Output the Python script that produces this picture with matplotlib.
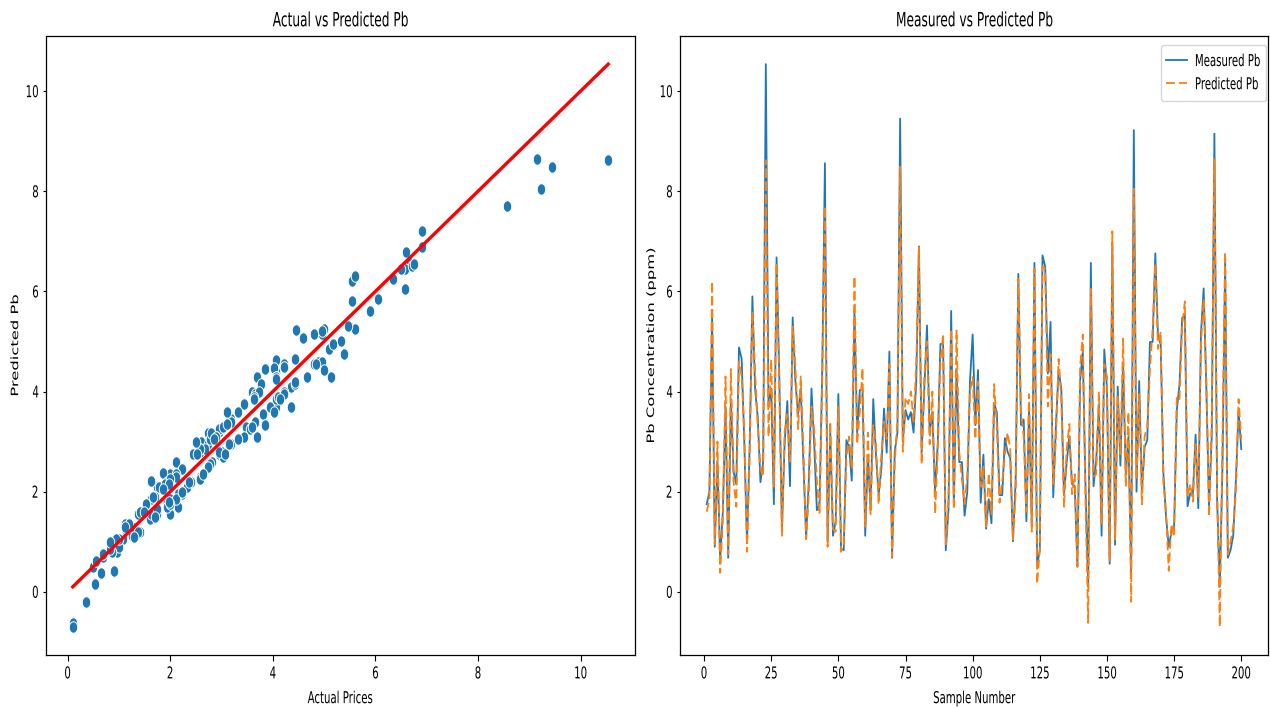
import matplotlib
matplotlib.use("Agg")
import numpy as np
import matplotlib.pyplot as plt
from matplotlib.path import Path
from matplotlib.patheffects import AbstractPathEffect
from matplotlib.transforms import Affine2D

# Measured and predicted Pb concentration (ppm) for samples 1..200
measured_pb = [
    1.75, 2.00, 5.54, 0.90, 2.60, 0.65, 1.60, 3.70, 0.68, 3.85,
    2.40, 2.15, 4.88, 4.66, 2.96, 0.97, 2.96, 5.90, 4.06, 3.48,
    2.19, 2.59, 10.54, 3.70, 4.06, 1.75, 6.68, 4.36, 1.25, 2.96,
    3.81, 2.11, 5.48, 4.21, 3.55, 4.06, 2.59, 1.08, 2.22, 4.06,
    2.96, 1.63, 1.75, 4.43, 8.56, 1.00, 3.18, 1.12, 1.41, 3.95,
    0.86, 0.83, 3.03, 2.89, 2.22, 5.60, 3.18, 4.03, 4.03, 1.12,
    2.74, 1.63, 3.85, 2.74, 1.93, 2.45, 3.66, 2.78, 4.80, 0.68,
    2.81, 3.18, 9.45, 3.00, 3.63, 3.44, 3.59, 3.18, 4.21, 6.90,
    2.78, 4.06, 5.32, 3.18, 3.60, 2.00, 2.96, 4.95, 4.95, 0.83,
    1.63, 5.61, 1.75, 4.45, 2.59, 2.59, 1.52, 2.00, 4.21, 5.14,
    3.33, 4.43, 1.78, 2.74, 1.26, 1.85, 1.37, 3.77, 3.59, 1.93,
    1.93, 3.07, 2.80, 2.67, 1.01, 2.22, 6.35, 3.33, 3.44, 1.41,
    3.66, 1.37, 6.57, 0.53, 0.83, 6.72, 6.50, 4.36, 5.39, 1.89,
    3.33, 4.43, 4.06, 1.93, 2.59, 3.11, 2.15, 2.11, 0.50, 4.21,
    4.80, 2.11, 0.10, 6.57, 2.11, 2.63, 3.74, 1.12, 4.84, 4.06,
    0.56, 6.90, 0.94, 4.10, 2.52, 4.58, 2.33, 3.10, 0.35, 9.22,
    2.00, 4.21, 2.00, 2.89, 3.03, 4.99, 4.99, 6.76, 5.10, 4.95,
    2.37, 1.49, 0.90, 1.19, 1.30, 3.63, 4.14, 5.47, 5.54, 1.71,
    1.97, 1.97, 3.14, 1.67, 5.17, 6.06, 4.06, 1.71, 3.11, 9.15,
    1.85, 0.10, 2.50, 6.60, 0.68, 0.83, 1.12, 2.22, 3.63, 2.85,
]

predicted_pb = [
    1.60, 1.85, 6.20, 0.95, 3.00, 0.38, 1.45, 4.30, 0.75, 4.45,
    2.20, 1.70, 4.60, 4.30, 3.20, 0.80, 2.75, 5.60, 4.40, 3.30,
    2.45, 2.30, 8.62, 3.10, 4.64, 2.10, 6.57, 4.10, 1.12, 3.20,
    3.55, 2.60, 5.30, 4.50, 3.25, 4.30, 2.85, 1.05, 1.95, 3.70,
    3.25, 2.22, 1.55, 4.15, 7.70, 0.90, 3.40, 1.25, 1.20, 3.70,
    0.80, 0.95, 2.70, 3.10, 2.45, 6.30, 2.95, 3.60, 4.47, 1.30,
    3.18, 1.55, 3.33, 2.95, 1.75, 2.75, 3.40, 3.05, 4.55, 0.70,
    2.60, 3.45, 8.49, 2.80, 3.88, 3.75, 4.00, 3.40, 4.55, 6.88,
    2.55, 4.30, 5.00, 2.95, 4.00, 1.56, 2.80, 4.60, 5.15, 0.95,
    1.85, 5.25, 1.65, 5.22, 2.80, 2.25, 1.75, 2.35, 4.00, 4.29,
    3.05, 4.20, 2.10, 2.50, 1.30, 2.37, 1.55, 4.15, 3.30, 1.78,
    2.20, 2.75, 3.18, 2.85, 1.05, 1.95, 6.25, 3.60, 3.10, 1.60,
    3.95, 1.20, 6.45, 0.16, 0.85, 6.50, 6.45, 3.70, 4.75, 2.15,
    3.05, 4.65, 3.85, 1.70, 2.85, 3.35, 1.95, 2.35, 0.50, 4.50,
    5.14, 1.85, -0.62, 6.05, 2.30, 2.35, 4.00, 1.35, 4.55, 4.30,
    0.62, 7.20, 1.05, 3.90, 2.75, 5.06, 2.10, 3.59, -0.20, 8.05,
    2.25, 3.95, 1.75, 3.10, 3.30, 4.43, 5.25, 6.55, 4.85, 5.20,
    2.20, 1.60, 0.42, 1.35, 1.10, 3.90, 3.85, 5.30, 5.80, 1.90,
    2.15, 1.80, 2.95, 1.90, 4.95, 5.85, 4.25, 1.50, 3.35, 8.64,
    2.05, -0.70, 3.00, 6.79, 0.75, 1.00, 1.30, 2.00, 3.85, 3.05,
]

sample_number = list(range(1, len(measured_pb) + 1))

scatter_xticks = [0, 2, 4, 6, 8, 10]
value_ticks = [0, 2, 4, 6, 8, 10]
sample_ticks = [0, 25, 50, 75, 100, 125, 150, 175, 200]

SQUEEZE = 0.62     # horizontal narrowing of all lettering
FS = 11.8          # base font size
plt.rcParams["font.family"] = ["DejaVu Sans"]


class SqueezeX(AbstractPathEffect):
    """Narrow a drawn path horizontally about an anchor x (display units)."""

    def __init__(self, factor, anchor="center", x0=None):
        super().__init__()
        self.factor = factor
        self.anchor = anchor
        self.x0 = x0

    def draw_path(self, renderer, gc, tpath, affine, rgbFace=None):
        if self.x0 is not None:
            cx = self.x0
        else:
            ext = tpath.get_extents(affine)
            cx = {"center": 0.5 * (ext.x0 + ext.x1),
                  "right": ext.x1, "left": ext.x0}[self.anchor]
        squeeze = Affine2D().translate(-cx, 0).scale(self.factor, 1).translate(cx, 0)
        renderer.draw_path(gc, tpath, affine + squeeze, rgbFace)


def narrow(text, anchor="center"):
    text.set_path_effects([SqueezeX(SQUEEZE, anchor)])


# Slightly upright elliptical dot used for the scatter
theta = np.linspace(0, 2 * np.pi, 60)
oval = Path(np.column_stack([0.37 * np.cos(theta), 0.5 * np.sin(theta)]), closed=True)

fig = plt.figure(figsize=(12.70, 7.09), dpi=100)
ax1 = fig.add_axes([46 / 1270, 1 - 655 / 709, (635 - 46) / 1270, (655 - 36) / 709])
ax2 = fig.add_axes([680 / 1270, 1 - 655 / 709, (1268 - 680) / 1270, (655 - 36) / 709])

# Left: actual vs predicted scatter with the identity line
ax1.scatter(measured_pb, predicted_pb, s=68, marker=oval, color="#1f77b4",
            edgecolor="white", linewidth=0.7, zorder=2)
lo, hi = min(measured_pb), max(measured_pb)
ax1.plot([lo, hi], [lo, hi], color="red", linewidth=2.4, zorder=3)
ax1.set_xticks(scatter_xticks)
ax1.set_yticks(value_ticks)
ax1.set_title("Actual vs Predicted Pb", fontsize=FS * 1.2, pad=7)
ax1.set_xlabel("Actual Prices", fontsize=FS, labelpad=7)
ax1.set_ylabel("Predicted Pb", fontsize=FS, va="center")
ax1.yaxis.set_label_coords(-0.051, 0.5)

# Right: measured and predicted series by sample
ax2.plot(sample_number, measured_pb, color="#1f77b4", linewidth=1.3,
         label="Measured Pb")
ax2.plot(sample_number, predicted_pb, color="#ff7f0e", linewidth=1.3,
         linestyle="--", dashes=(5.0, 2.15), label="Predicted Pb")
ax2.set_xticks(sample_ticks)
ax2.set_yticks(value_ticks)
ax2.set_title("Measured vs Predicted Pb", fontsize=FS * 1.2, pad=7)
ax2.set_xlabel("Sample Number", fontsize=FS, labelpad=7)
ax2.set_ylabel("Pb Concentration (ppm)", fontsize=FS, va="center")
ax2.yaxis.set_label_coords(-0.049, 0.5)
leg = ax2.legend(loc="upper right", fontsize=FS, borderaxespad=0,
                 borderpad=0.55, bbox_to_anchor=(1 - 2 / 588, 1 - 9 / 619))

for ax in (ax1, ax2):
    ax.tick_params(axis="x", labelsize=FS, length=4.1, pad=4.1, width=0.8)
    ax.tick_params(axis="y", labelsize=FS, length=2.5, pad=2.5, width=0.8)
    for spine in ax.spines.values():
        spine.set_linewidth(0.9)

fig.canvas.draw()

for ax in (ax1, ax2):
    narrow(ax.title)
    narrow(ax.xaxis.label)
    narrow(ax.yaxis.label)
    for t in ax.get_xticklabels():
        narrow(t, "center")
    for t in ax.get_yticklabels():
        narrow(t, "right")

# The legend is narrowed as one block about its right edge
right_edge = leg.get_window_extent().x1
block = [SqueezeX(SQUEEZE, x0=right_edge)]
leg.get_frame().set_path_effects(block)
for h in leg.get_lines():
    h.set_path_effects(block)
for t in leg.get_texts():
    t.set_path_effects(block)

fig.savefig("out.png", dpi=100)
